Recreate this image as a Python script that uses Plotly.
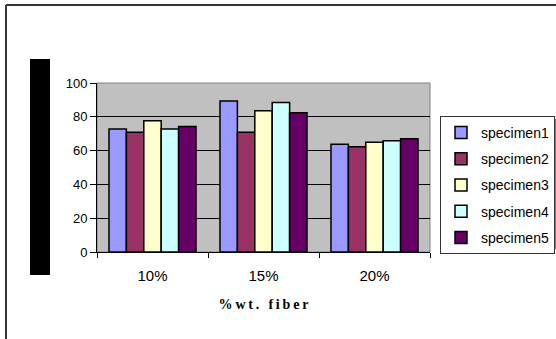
import plotly.graph_objects as go

# Fibre loading categories and measured values for each specimen
categories = ["10%", "15%", "20%"]
specimen1 = [72.8, 89.3, 63.7]
specimen2 = [70.8, 70.8, 62.3]
specimen3 = [77.7, 83.6, 64.9]
specimen4 = [72.8, 88.4, 65.9]
specimen5 = [74.2, 82.4, 67.0]
series_names = ["specimen1", "specimen2", "specimen3", "specimen4", "specimen5"]
series_colors = ["#9999FF", "#993366", "#FFFFCC", "#CCFFFF", "#660066"]
y_ticks = [0, 20, 40, 60, 80, 100]
x_title = "%wt. fiber"

W, H = 556, 339
L, R, T, B = 97, 126, 83, 87
pw, ph = W - L - R, H - T - B


def px_x(p):
    return (p - L) / pw


def px_y(p):
    return (H - B - p) / ph


fig = go.Figure()
for name, vals, col in zip(series_names,
                           [specimen1, specimen2, specimen3, specimen4, specimen5],
                           series_colors):
    fig.add_trace(go.Bar(
        x=categories, y=vals, name=name, legendgroup=name,
        marker=dict(color=col, line=dict(color="black", width=1.5)),
    ))

shapes = [
    # plot area frame
    dict(type="rect", xref="paper", yref="paper", x0=0, x1=1, y0=0, y1=1,
         line=dict(color="#808080", width=1), layer="below"),
    # outer chart border (top and left)
    dict(type="line", xref="paper", yref="paper", x0=px_x(6), x1=px_x(560),
         y0=px_y(5), y1=px_y(5), line=dict(color="#333333", width=2)),
    dict(type="line", xref="paper", yref="paper", x0=px_x(6), x1=px_x(6),
         y0=px_y(5), y1=px_y(345), line=dict(color="#333333", width=2)),
    # dark bar at the left of the value axis
    dict(type="rect", xref="paper", yref="paper", x0=px_x(30), x1=px_x(50),
         y0=px_y(275), y1=px_y(59), fillcolor="black", line=dict(width=0)),
    # legend shadow
    dict(type="rect", xref="paper", yref="paper", x0=px_x(443), x1=px_x(560),
         y0=px_y(249), y1=px_y(119), fillcolor="#808080", line=dict(width=0)),
]

# spread the axis title letters apart with thin spaces
spaced_title = "\u2009".join(x_title)

fig.update_layout(
    width=W, height=H,
    margin=dict(l=L, r=R, t=T, b=B, autoexpand=False),
    paper_bgcolor="white",
    plot_bgcolor="#C0C0C0",
    barmode="group",
    bargap=0.216,
    bargroupgap=0,
    font=dict(family="Liberation Sans, Arial, sans-serif", size=12, color="black"),
    showlegend=True,
    legend=dict(
        x=px_x(440), y=px_y(116), xanchor="left", yanchor="top",
        bgcolor="white", bordercolor="#333333", borderwidth=1,
        traceorder="grouped", tracegroupgap=5,
        font=dict(size=14), itemwidth=30,
    ),
    shapes=shapes,
)

fig.update_xaxes(
    showline=True, linecolor="black", linewidth=1,
    ticks="outside", tickson="boundaries", ticklen=5, tickcolor="black",
    ticklabelstandoff=10,
    tickfont=dict(size=15),
    showgrid=False,
    title=dict(text="<b>" + spaced_title + "</b>",
               font=dict(family="Liberation Serif, serif", size=14),
               standoff=16),
)
fig.update_yaxes(
    range=[0, 100], tickvals=y_ticks,
    showline=True, linecolor="black", linewidth=1,
    ticks="outside", ticklen=6, tickcolor="black",
    showgrid=True, gridcolor="black", gridwidth=1,
    zeroline=False,
    tickfont=dict(size=13),
)

fig.write_html("out.html")
